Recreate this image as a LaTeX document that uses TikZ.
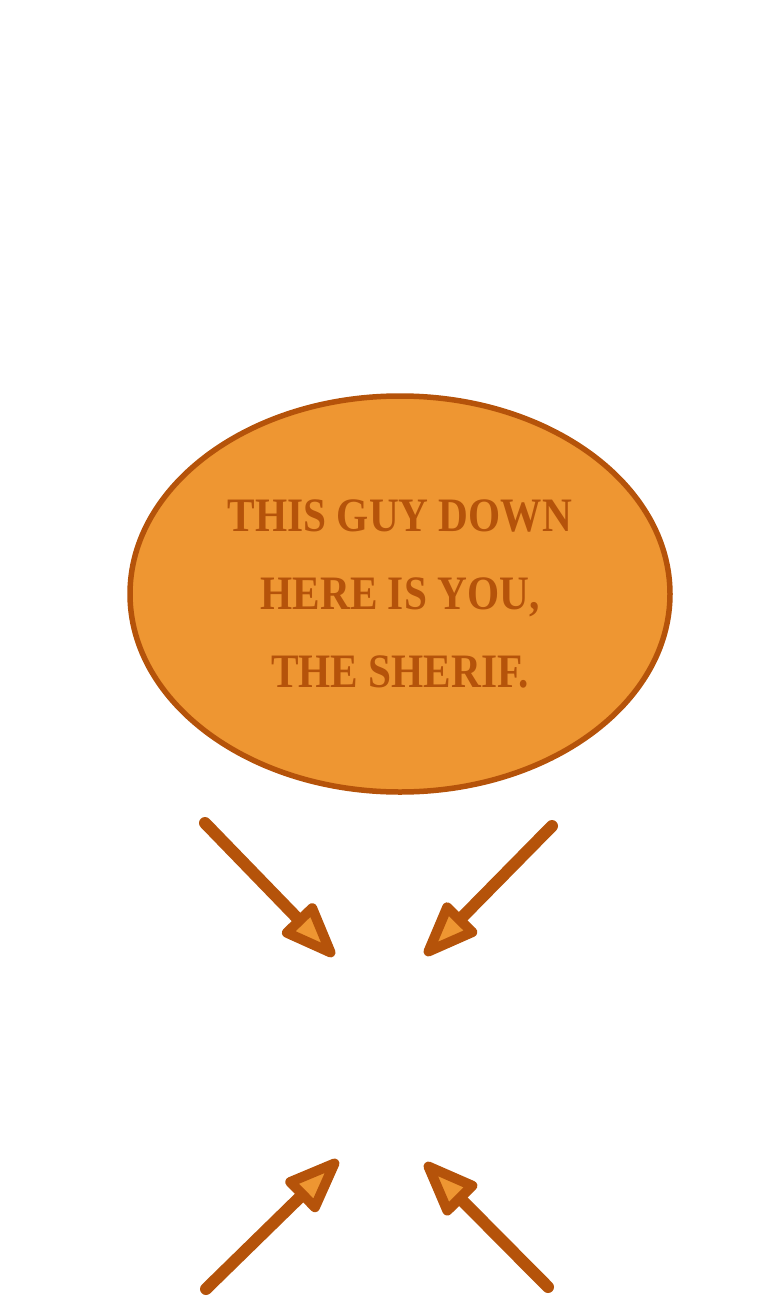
\documentclass[tikz,border=0pt]{standalone}
\usepackage{fontspec}
\setmainfont{Liberation Serif}
\newfontfamily\sheriffont[FakeStretch=0.86]{Liberation Serif}
\usetikzlibrary{arrows.meta,shapes.geometric}
\definecolor{sheriforange}{RGB}{238,150,50}
\definecolor{sheriffbrown}{RGB}{181,83,10}

\begin{document}
\begin{tikzpicture} [x=1pt,y=-1pt,
	bubble node/.style={ellipse,fill=sheriforange,draw=sheriffbrown,line width=5.5pt,
		minimum width=540pt,minimum height=396pt,inner sep=0pt,align=center,
		text=sheriffbrown,font=\sheriffont\bfseries\fontsize{48}{78}\selectfont},
	pointer/.style={draw=sheriffbrown,line width=12pt,line cap=round,
		-{Triangle[length=64pt,width=47pt,line width=10pt,fill=sheriforange,round]}}]

	\useasboundingbox (0,0) rectangle (768,1300);

	\node[bubble node] (talk) at (400,594) {THIS GUY DOWN\\HERE IS YOU,\\THE SHERIF.};

	\coordinate (a1) at (205,823);
	\coordinate (b1) at (334,956);
	\coordinate (a2) at (552,826);
	\coordinate (b2) at (425,955);
	\coordinate (a3) at (206,1289);
	\coordinate (b3) at (338,1160);
	\coordinate (a4) at (548,1287);
	\coordinate (b4) at (425,1163);

	\path
	(a1) edge[pointer] (b1)
	(a2) edge[pointer] (b2)
	(a3) edge[pointer] (b3)
	(a4) edge[pointer] (b4);
\end{tikzpicture}
\end{document}
